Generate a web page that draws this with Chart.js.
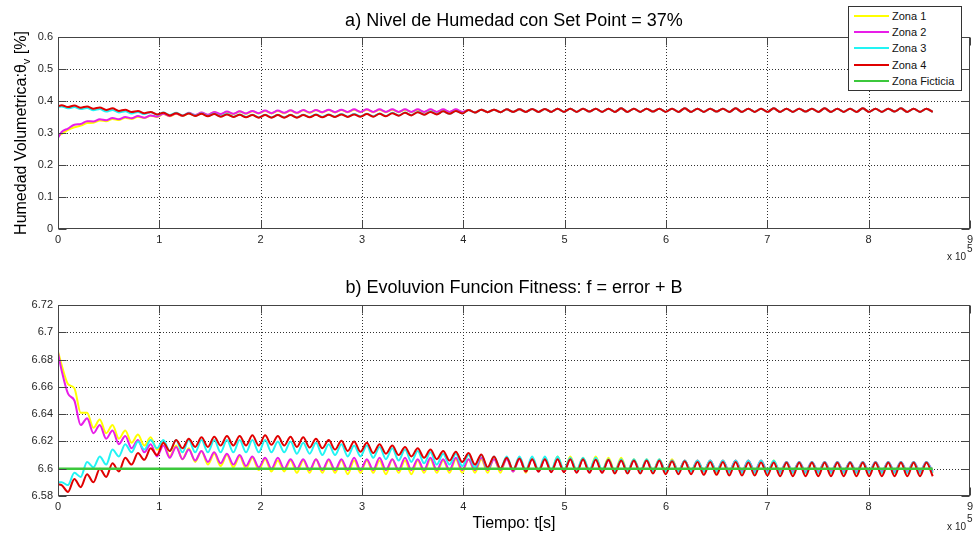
<!DOCTYPE html>
<html>
<head>
<meta charset="utf-8">
<script src="https://cdn.jsdelivr.net/npm/chart.js@4.4.1/dist/chart.umd.min.js"></script>
<style>
  html, body { margin: 0; padding: 0; background: #fff; }
  #wrap { position: relative; width: 977px; height: 533px; overflow: hidden; }
  canvas { position: absolute; left: 0; }
  #cTop { top: 0; }
  #cBottom { top: 266px; }
  #legend { position: absolute; left: 848px; top: 6px; width: 112px; height: 83px; border: 1px solid #333; background: #fff;
            font: 11px Arial, "Liberation Sans", sans-serif; color: #111; z-index: 5; }
  .item { position: absolute; left: 0; width: 112px; height: 16px; }
  .item i { position: absolute; left: 5px; top: 7px; width: 35px; height: 2px; }
  .item span { position: absolute; left: 43px; top: 0; line-height: 16px; white-space: nowrap; }
</style>
</head>
<body>
<div id="wrap">
  <canvas id="cTop" width="977" height="266"></canvas>
  <canvas id="cBottom" width="977" height="267"></canvas>
  <div id="legend"></div>
</div>
<script>
// muestras tomadas en cada pico / valle (medio ciclo)
const T_PRIMER_PICO = 3600;
const MEDIO_CICLO = 6275;
const tiempo = [0, ...Array.from({ length: 138 }, (_, k) => T_PRIMER_PICO + k * MEDIO_CICLO)];

const nombres = ['Zona 1', 'Zona 2', 'Zona 3', 'Zona 4', 'Zona Ficticia'];
const colores = ['#ffff00', '#e81ee8', '#22f4f4', '#e00000', '#3cc83c'];

// --- a) humedad volumetrica ---
const zona1A_ini = [0.292,
  0.297, 0.310, 0.318, 0.323, 0.331, 0.332, 0.339, 0.337, 0.344, 0.341, 0.348, 0.344, 0.351, 0.347, 0.354, 0.350,
  0.359, 0.352, 0.360, 0.353, 0.362, 0.355, 0.363, 0.356, 0.365, 0.358, 0.366, 0.359, 0.367, 0.360, 0.368, 0.361,
  0.369, 0.361, 0.369, 0.362, 0.370, 0.362, 0.371, 0.363, 0.371, 0.364, 0.372, 0.364, 0.372, 0.365, 0.373, 0.365,
  0.373, 0.365, 0.373, 0.365, 0.373, 0.365, 0.373, 0.365, 0.373, 0.365, 0.373, 0.365, 0.373, 0.365, 0.373, 0.365];
const zona2A_ini = [0.285,
  0.303, 0.314, 0.326, 0.328, 0.337, 0.336, 0.343, 0.340, 0.347, 0.343, 0.350, 0.346, 0.353, 0.348, 0.355, 0.351,
  0.360, 0.353, 0.361, 0.354, 0.363, 0.356, 0.364, 0.357, 0.366, 0.359, 0.367, 0.360, 0.368, 0.361, 0.369, 0.362,
  0.370, 0.362, 0.370, 0.363, 0.371, 0.363, 0.372, 0.364, 0.372, 0.365, 0.373, 0.365, 0.373, 0.366, 0.374, 0.366,
  0.374, 0.366, 0.374, 0.366, 0.374, 0.366, 0.374, 0.366, 0.374, 0.366, 0.374, 0.366, 0.374, 0.366, 0.374, 0.366];
const zona3A_ini = [0.381,
  0.383, 0.377, 0.381, 0.375, 0.378, 0.371, 0.375, 0.367, 0.372, 0.364, 0.368, 0.361, 0.366, 0.359, 0.365, 0.357,
  0.364, 0.356, 0.363, 0.355, 0.362, 0.354, 0.361, 0.353, 0.360, 0.352, 0.359, 0.351, 0.358, 0.350, 0.357, 0.349,
  0.357, 0.349, 0.357, 0.349, 0.357, 0.349, 0.357, 0.350, 0.358, 0.350, 0.358, 0.351, 0.359, 0.351, 0.359, 0.352,
  0.360, 0.352, 0.361, 0.353, 0.363, 0.355, 0.364, 0.356, 0.366, 0.358, 0.367, 0.359, 0.368, 0.360, 0.369, 0.361];
const zona4A_ini = [0.383,
  0.387, 0.381, 0.386, 0.379, 0.383, 0.376, 0.380, 0.372, 0.377, 0.369, 0.373, 0.366, 0.369, 0.362, 0.366, 0.358,
  0.363, 0.355, 0.362, 0.354, 0.361, 0.353, 0.360, 0.352, 0.359, 0.351, 0.358, 0.350, 0.357, 0.349, 0.356, 0.348,
  0.356, 0.348, 0.356, 0.348, 0.356, 0.348, 0.356, 0.349, 0.357, 0.349, 0.357, 0.350, 0.358, 0.350, 0.358, 0.351,
  0.359, 0.351, 0.360, 0.352, 0.362, 0.354, 0.363, 0.355, 0.365, 0.357, 0.366, 0.358, 0.368, 0.360, 0.369, 0.361];
// desde 4e5 s las cuatro zonas se superponen
const zonasA_fin = [
  0.372, 0.364, 0.373, 0.365, 0.373, 0.365, 0.374, 0.366, 0.374, 0.366, 0.375, 0.366, 0.375, 0.366, 0.376, 0.366,
  0.376, 0.366, 0.376, 0.367, 0.376, 0.366, 0.376, 0.366, 0.377, 0.366, 0.376, 0.366, 0.376, 0.367, 0.376, 0.366,
  0.376, 0.366, 0.377, 0.366, 0.376, 0.366, 0.376, 0.367, 0.376, 0.366, 0.377, 0.366, 0.376, 0.366, 0.376, 0.366,
  0.377, 0.366, 0.376, 0.366, 0.376, 0.367, 0.376, 0.366, 0.377, 0.366, 0.376, 0.366, 0.376, 0.366, 0.377, 0.366,
  0.376, 0.366, 0.376, 0.367, 0.377, 0.366, 0.376, 0.366, 0.376, 0.366];

// --- b) funcion fitness ---
const zona1B = [6.686,
  6.676, 6.662, 6.659, 6.641, 6.641, 6.630, 6.636, 6.626, 6.632, 6.622, 6.628, 6.619, 6.625, 6.617, 6.623, 6.614,
  6.619, 6.609, 6.617, 6.607, 6.615, 6.605, 6.613, 6.603, 6.611, 6.602, 6.610, 6.601, 6.609, 6.600, 6.608, 6.599,
  6.607, 6.598, 6.606, 6.598, 6.606, 6.597, 6.606, 6.597, 6.607, 6.597, 6.606, 6.597, 6.606, 6.596, 6.606, 6.597,
  6.606, 6.597, 6.606, 6.596, 6.607, 6.597, 6.606, 6.596, 6.606, 6.597, 6.607, 6.597, 6.606, 6.597, 6.607, 6.597,
  6.607, 6.597, 6.607, 6.597, 6.608, 6.597, 6.608, 6.598, 6.608, 6.597, 6.608, 6.598, 6.608, 6.598, 6.609, 6.598,
  6.609, 6.598, 6.608, 6.598, 6.609, 6.598, 6.608, 6.598, 6.608, 6.598, 6.607, 6.598, 6.607, 6.598, 6.607, 6.598,
  6.607, 6.598, 6.606, 6.598, 6.606, 6.598, 6.606, 6.597, 6.606, 6.597, 6.606, 6.597, 6.606, 6.597, 6.606, 6.597,
  6.606, 6.597, 6.605, 6.597, 6.605, 6.597, 6.605, 6.597, 6.605, 6.597, 6.605, 6.597, 6.605, 6.597, 6.605, 6.597,
  6.605, 6.597, 6.605, 6.597, 6.605, 6.597, 6.605, 6.597, 6.605, 6.597];
const zona2B = [6.685,
  6.672, 6.655, 6.650, 6.632, 6.637, 6.626, 6.632, 6.622, 6.628, 6.618, 6.624, 6.615, 6.621, 6.612, 6.618, 6.609,
  6.617, 6.608, 6.616, 6.607, 6.614, 6.606, 6.613, 6.605, 6.612, 6.604, 6.611, 6.603, 6.610, 6.602, 6.609, 6.601,
  6.608, 6.600, 6.608, 6.600, 6.607, 6.600, 6.607, 6.599, 6.607, 6.599, 6.607, 6.599, 6.607, 6.599, 6.608, 6.599,
  6.607, 6.599, 6.608, 6.599, 6.607, 6.599, 6.608, 6.599, 6.607, 6.599, 6.608, 6.599, 6.607, 6.599, 6.608, 6.599,
  6.607, 6.599, 6.608, 6.599, 6.607, 6.599, 6.607, 6.598, 6.607, 6.598, 6.607, 6.598, 6.607, 6.598, 6.607, 6.598,
  6.607, 6.598, 6.607, 6.598, 6.607, 6.598, 6.606, 6.598, 6.606, 6.598, 6.606, 6.598, 6.606, 6.598, 6.606, 6.598,
  6.606, 6.598, 6.606, 6.598, 6.606, 6.598, 6.606, 6.598, 6.606, 6.598, 6.606, 6.598, 6.606, 6.598, 6.606, 6.598,
  6.605, 6.598, 6.605, 6.598, 6.605, 6.598, 6.605, 6.598, 6.605, 6.598, 6.605, 6.598, 6.605, 6.598, 6.605, 6.598,
  6.605, 6.598, 6.605, 6.598, 6.605, 6.598, 6.605, 6.598, 6.605, 6.598];
const zona3B = [6.590,
  6.590, 6.588, 6.597, 6.594, 6.605, 6.601, 6.609, 6.603, 6.614, 6.609, 6.618, 6.612, 6.620, 6.614, 6.621, 6.615,
  6.621, 6.613, 6.621, 6.612, 6.621, 6.612, 6.621, 6.612, 6.621, 6.612, 6.621, 6.612, 6.621, 6.612, 6.621, 6.612,
  6.621, 6.612, 6.620, 6.612, 6.620, 6.611, 6.619, 6.611, 6.619, 6.610, 6.618, 6.610, 6.618, 6.609, 6.617, 6.609,
  6.617, 6.608, 6.616, 6.607, 6.615, 6.606, 6.614, 6.605, 6.613, 6.604, 6.612, 6.603, 6.611, 6.603, 6.611, 6.602,
  6.610, 6.601, 6.610, 6.600, 6.609, 6.600, 6.609, 6.599, 6.609, 6.599, 6.609, 6.599, 6.609, 6.599, 6.609, 6.599,
  6.608, 6.599, 6.608, 6.599, 6.608, 6.599, 6.607, 6.598, 6.607, 6.598, 6.607, 6.598, 6.607, 6.598, 6.607, 6.598,
  6.606, 6.598, 6.606, 6.598, 6.606, 6.598, 6.606, 6.598, 6.606, 6.597, 6.606, 6.597, 6.606, 6.597, 6.606, 6.597,
  6.606, 6.597, 6.605, 6.597, 6.605, 6.597, 6.605, 6.597, 6.605, 6.597, 6.605, 6.597, 6.605, 6.597, 6.605, 6.597,
  6.605, 6.597, 6.605, 6.597, 6.605, 6.597, 6.605, 6.597, 6.605, 6.597];
const zona4B = [6.5885,
  6.588, 6.583, 6.5925, 6.5865, 6.596, 6.590, 6.600, 6.594, 6.604, 6.598, 6.608, 6.603, 6.6115, 6.6065, 6.615, 6.610,
  6.619, 6.613, 6.621, 6.615, 6.622, 6.616, 6.623, 6.616, 6.6235, 6.617, 6.624, 6.617, 6.624, 6.617, 6.6245, 6.617,
  6.6245, 6.6175, 6.624, 6.617, 6.6235, 6.616, 6.623, 6.6155, 6.622, 6.615, 6.621, 6.614, 6.6205, 6.613, 6.620, 6.6125,
  6.619, 6.6115, 6.618, 6.611, 6.617, 6.610, 6.616, 6.609, 6.615, 6.608, 6.614, 6.607, 6.613, 6.606, 6.6125, 6.605,
  6.6115, 6.603, 6.6105, 6.601, 6.609, 6.600, 6.608, 6.599, 6.6075, 6.598, 6.607, 6.598, 6.607, 6.5975, 6.607, 6.5975,
  6.607, 6.597, 6.607, 6.597, 6.6065, 6.597, 6.6065, 6.5965, 6.606, 6.5965, 6.606, 6.5965, 6.606, 6.5965, 6.606, 6.596,
  6.6055, 6.596, 6.6055, 6.596, 6.605, 6.5955, 6.605, 6.5955, 6.605, 6.595, 6.605, 6.595, 6.6045, 6.595, 6.6045, 6.595,
  6.6045, 6.5945, 6.6045, 6.5945, 6.6045, 6.5945, 6.6045, 6.5945, 6.6045, 6.5945, 6.6045, 6.5945, 6.6045, 6.5945, 6.6045, 6.5945,
  6.6045, 6.5945, 6.6045, 6.5945, 6.6045, 6.5945, 6.6045, 6.5945, 6.6045, 6.5945];
const ficticiaT = [0, 863275];
const ficticiaB = [6.6, 6.6];

const ticksX = [0, 1, 2, 3, 4, 5, 6, 7, 8, 9];

const FUENTE = 'Arial, "Liberation Sans", Helvetica, sans-serif';
Chart.defaults.font.family = FUENTE;
Chart.defaults.color = '#262626';

const puntos = (ts, ys) => ts.map((t, i) => ({ x: t, y: ys[i] }));

function serie(i, ts, ys) {
  return {
    label: nombres[i],
    data: puntos(ts, ys),
    borderColor: colores[i],
    borderWidth: i === 4 ? 2.5 : 2,
    pointRadius: 0,
    cubicInterpolationMode: 'monotone',
    order: 5 - i
  };
}

// ejes estilo MATLAB: grilla punteada, caja y marcas hacia adentro
const marco = {
  id: 'marco',
  beforeDatasetsDraw(chart) {
    const { ctx, chartArea: a, scales: { x, y } } = chart;
    ctx.save();
    ctx.strokeStyle = '#303030';
    ctx.lineWidth = 1;
    ctx.setLineDash([1, 2]);
    x.ticks.forEach(t => {
      const px = Math.round(x.getPixelForValue(t.value)) + 0.5;
      if (px < a.left + 2 || px > a.right - 2) return;
      ctx.beginPath(); ctx.moveTo(px, a.top); ctx.lineTo(px, a.bottom); ctx.stroke();
    });
    y.ticks.forEach(t => {
      const py = Math.round(y.getPixelForValue(t.value)) + 0.5;
      if (py < a.top + 2 || py > a.bottom - 2) return;
      ctx.beginPath(); ctx.moveTo(a.left, py); ctx.lineTo(a.right, py); ctx.stroke();
    });
    ctx.restore();
  },
  afterDatasetsDraw(chart, args, opts) {
    const { ctx, chartArea: a, scales: { x, y } } = chart;
    const L = Math.round(a.left) + 0.5, R = Math.round(a.right) - 0.5;
    const T = Math.round(a.top) + 0.5, B = Math.round(a.bottom) - 0.5;
    ctx.save();
    ctx.strokeStyle = '#444';
    ctx.lineWidth = 1;
    ctx.strokeRect(L, T, R - L, B - T);
    ctx.beginPath();
    x.ticks.forEach(t => {
      const px = Math.round(x.getPixelForValue(t.value)) + 0.5;
      ctx.moveTo(px, B); ctx.lineTo(px, B - 8);
      ctx.moveTo(px, T); ctx.lineTo(px, T + 8);
    });
    y.ticks.forEach(t => {
      const py = Math.round(y.getPixelForValue(t.value)) + 0.5;
      ctx.moveTo(L, py); ctx.lineTo(L + 8, py);
      ctx.moveTo(R, py); ctx.lineTo(R - 8, py);
    });
    ctx.stroke();

    const cx = (a.left + a.right) / 2;
    ctx.fillStyle = '#000';
    ctx.textBaseline = 'alphabetic';
    ctx.textAlign = 'center';
    ctx.font = '18px ' + FUENTE;
    ctx.fillText(opts.titulo, cx, opts.tituloY);
    if (opts.xlabel) {
      ctx.font = '16px ' + FUENTE;
      ctx.fillText(opts.xlabel, cx, opts.xlabelY);
    }
    // multiplicador del eje x
    ctx.fillStyle = '#222';
    ctx.textAlign = 'right';
    ctx.font = '10px ' + FUENTE;
    ctx.fillText('x 10', 966, opts.exponenteY);
    ctx.textAlign = 'left';
    ctx.fillText('5', 967, opts.exponenteY - 8);

    if (opts.ylabel) {
      const [p1, sub, p2] = opts.ylabel;
      ctx.save();
      ctx.translate(26, (a.top + a.bottom) / 2);
      ctx.rotate(-Math.PI / 2);
      ctx.fillStyle = '#000';
      ctx.font = '16px ' + FUENTE;
      const w1 = ctx.measureText(p1).width, w3 = ctx.measureText(p2).width;
      ctx.font = '11px ' + FUENTE;
      const w2 = ctx.measureText(sub).width;
      let xs = -(w1 + w2 + w3) / 2;
      ctx.font = '16px ' + FUENTE;
      ctx.fillText(p1, xs, 0);
      ctx.font = '11px ' + FUENTE;
      ctx.fillText(sub, xs + w1, 4);
      ctx.font = '16px ' + FUENTE;
      ctx.fillText(p2, xs + w1 + w2, 0);
      ctx.restore();
    }
    ctx.restore();
  }
};

function opciones(cfg) {
  return {
    responsive: false,
    animation: false,
    events: [],
    layout: { padding: { left: 0, right: 6, top: cfg.arriba, bottom: 0 } },
    plugins: {
      legend: { display: false },
      tooltip: { enabled: false },
      marco: cfg.marco
    },
    scales: {
      x: {
        type: 'linear', min: 0, max: 900000,
        afterFit: s => { s.height = cfg.altoX; },
        grid: { display: false, drawTicks: false },
        border: { display: false },
        ticks: { stepSize: 100000, padding: 4, maxRotation: 0, font: { size: 11 },
                 callback: v => ticksX[Math.round(v / 100000)] }
      },
      y: {
        min: cfg.ymin, max: cfg.ymax,
        afterFit: s => { s.width = 58; },
        grid: { display: false, drawTicks: false },
        border: { display: false },
        ticks: { stepSize: cfg.paso, padding: 5, font: { size: 11 },
                 callback: v => String(+v.toFixed(2)) }
      }
    }
  };
}

new Chart(document.getElementById('cTop'), {
  type: 'line',
  data: {
    datasets: [
      serie(0, tiempo, [...zona1A_ini, ...zonasA_fin]),
      serie(1, tiempo, [...zona2A_ini, ...zonasA_fin]),
      serie(2, tiempo, [...zona3A_ini, ...zonasA_fin]),
      serie(3, tiempo, [...zona4A_ini, ...zonasA_fin])
    ]
  },
  options: opciones({
    arriba: 37, altoX: 37, ymin: 0, ymax: 0.6, paso: 0.1,
    marco: {
      titulo: 'a) Nivel de Humedad con Set Point = 37%', tituloY: 26,
      exponenteY: 260,
      ylabel: ['Humedad Volumetrica:\u03b8', 'v', ' [%]']
    }
  }),
  plugins: [marco]
});

new Chart(document.getElementById('cBottom'), {
  type: 'line',
  data: {
    datasets: [
      serie(0, tiempo, zona1B),
      serie(1, tiempo, zona2B),
      serie(2, tiempo, zona3B),
      serie(3, tiempo, zona4B),
      serie(4, ficticiaT, ficticiaB)
    ]
  },
  options: opciones({
    arriba: 39, altoX: 37, ymin: 6.58, ymax: 6.72, paso: 0.02,
    marco: {
      titulo: 'b) Evoluvion Funcion Fitness: f = error + B', tituloY: 27,
      xlabel: 'Tiempo: t[s]', xlabelY: 262,
      exponenteY: 264
    }
  }),
  plugins: [marco]
});

// leyenda (dentro del primer grafico, arriba a la derecha)
const leyenda = document.getElementById('legend');
nombres.forEach((n, i) => {
  const d = document.createElement('div');
  d.className = 'item';
  d.style.top = (1 + i * 16.2) + 'px';
  d.innerHTML = `<i style="background:${colores[i]}"></i><span>${n}</span>`;
  leyenda.appendChild(d);
});
</script>
</body>
</html>
